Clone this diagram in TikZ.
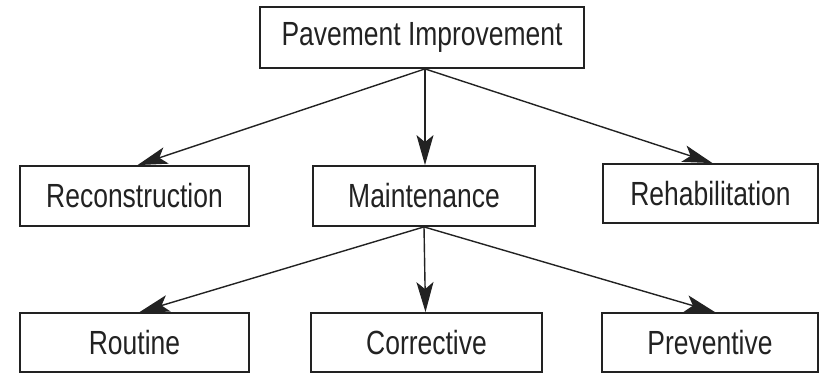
\documentclass[tikz,border=0pt]{standalone}
\usepackage{fontspec}
\setmainfont[FakeStretch=0.79]{Liberation Sans}
\usetikzlibrary{arrows.meta}
\definecolor{ink}{HTML}{222222}
\tikzset{
  box/.style={draw=ink, line width=1.8pt, inner sep=0pt, text=ink,
    font=\fontsize{33.5}{38}\selectfont, anchor=center},
  conn/.style={draw=ink, line width=1.4pt,
    -{Stealth[length=30pt, width=17pt, inset=7pt]}}
}
\begin{document}
\begin{tikzpicture}[x=1pt, y=-1pt]
\useasboundingbox (0,0) rectangle (822,373);
\node[box, minimum width=324pt, minimum height=61pt] (top) at (422,37.5) {Pavement Improvement};
\node[box, minimum width=229pt, minimum height=60pt] (rec) at (134.5,196) {Reconstruction};
\node[box, minimum width=222pt, minimum height=60pt] (mai) at (424,196) {Maintenance};
\node[box, minimum width=215pt, minimum height=59pt] (reh) at (710.5,193.5) {Rehabilitation};
\node[box, minimum width=229pt, minimum height=59pt] (rou) at (134.5,342.5) {Routine};
\node[box, minimum width=231pt, minimum height=59pt] (cor) at (426.5,342.5) {Corrective};
\node[box, minimum width=216pt, minimum height=59pt] (pre) at (710,342.5) {Preventive};
\draw[conn] ([xshift=3pt]top.south) -- ([xshift=3pt]rec.north);
\draw[conn] ([xshift=3pt]top.south) -- ([xshift=1pt]mai.north);
\draw[conn] ([xshift=3pt]top.south) -- ([xshift=2pt]reh.north);
\draw[conn] (mai.south) -- ([xshift=5pt]rou.north);
\draw[conn] (mai.south) -- ([xshift=-1pt]cor.north);
\draw[conn] (mai.south) -- ([xshift=5pt]pre.north);
\end{tikzpicture}
\end{document}
